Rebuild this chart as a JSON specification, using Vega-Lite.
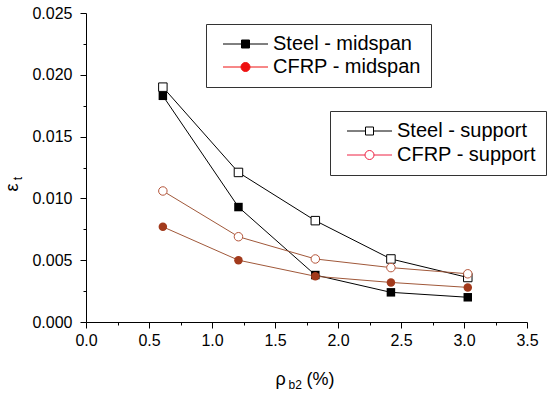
{
  "$schema": "https://vega.github.io/schema/vega-lite/v6.json",
  "width": 441,
  "height": 309,
  "autosize": {"type": "none"},
  "padding": {"left": 86, "top": 13, "right": 23, "bottom": 72},
  "background": "white",
  "config": {
    "view": {"stroke": null},
    "font": "Liberation Sans",
    "axis": {"grid": false, "labelFont": "Liberation Sans", "labelFontSize": 16, "labelColor": "black", "domainColor": "black", "tickColor": "black", "titleColor": "black", "titleFont": "Liberation Sans", "titleFontWeight": "normal"},
    "legend": {"labelFont": "Liberation Sans", "labelFontSize": 20, "labelColor": "black", "labelLimit": 400}
  },
  "data": {"values": [
    {"rho": 0.61, "eps": 0.0183, "series": "Steel - midspan"},
    {"rho": 1.21, "eps": 0.0093, "series": "Steel - midspan"},
    {"rho": 1.82, "eps": 0.0038, "series": "Steel - midspan"},
    {"rho": 2.42, "eps": 0.0024, "series": "Steel - midspan"},
    {"rho": 3.03, "eps": 0.0020, "series": "Steel - midspan"},
    {"rho": 0.61, "eps": 0.0077, "series": "CFRP - midspan"},
    {"rho": 1.21, "eps": 0.0050, "series": "CFRP - midspan"},
    {"rho": 1.82, "eps": 0.0037, "series": "CFRP - midspan"},
    {"rho": 2.42, "eps": 0.0032, "series": "CFRP - midspan"},
    {"rho": 3.03, "eps": 0.0028, "series": "CFRP - midspan"},
    {"rho": 0.61, "eps": 0.0190, "series": "Steel - support"},
    {"rho": 1.21, "eps": 0.0121, "series": "Steel - support"},
    {"rho": 1.82, "eps": 0.0082, "series": "Steel - support"},
    {"rho": 2.42, "eps": 0.0051, "series": "Steel - support"},
    {"rho": 3.03, "eps": 0.0036, "series": "Steel - support"},
    {"rho": 0.61, "eps": 0.0106, "series": "CFRP - support"},
    {"rho": 1.21, "eps": 0.0069, "series": "CFRP - support"},
    {"rho": 1.82, "eps": 0.0051, "series": "CFRP - support"},
    {"rho": 2.42, "eps": 0.0044, "series": "CFRP - support"},
    {"rho": 3.03, "eps": 0.0039, "series": "CFRP - support"}
  ]},
  "resolve": {
    "scale": {"color": "independent", "fill": "independent", "stroke": "independent", "shape": "independent"},
    "axis": {"x": "independent", "y": "independent"}
  },
  "layer": [
    {
      "mark": {"type": "line", "strokeWidth": 1},
      "encoding": {
        "x": {"field": "rho", "type": "quantitative", "scale": {"domain": [0, 3.5], "nice": false, "zero": false},
          "axis": {"orient": "bottom", "values": [0, 0.5, 1, 1.5, 2, 2.5, 3, 3.5], "format": ".1f", "tickSize": 6, "labelPadding": 4, "labelFlush": false, "labelOverlap": false,
            "title": "ρ", "titleFontSize": 18, "titleX": 189, "titleY": 62, "titleAlign": "left", "titleBaseline": "alphabetic"}},
        "y": {"field": "eps", "type": "quantitative", "scale": {"domain": [0, 0.025], "nice": false, "zero": false},
          "axis": {"orient": "left", "values": [0, 0.005, 0.01, 0.015, 0.02, 0.025], "format": ".3f", "tickSize": 6, "labelPadding": 8, "labelFlush": false, "labelOverlap": false,
            "title": "ε", "titleFontSize": 18, "titleX": -69, "titleY": 174, "titleAngle": -90, "titleAlign": "center", "titleBaseline": "alphabetic"}},
        "color": {"field": "series", "type": "nominal", "legend": null,
          "scale": {"domain": ["Steel - midspan", "CFRP - midspan", "Steel - support", "CFRP - support"], "range": ["black", "#a0583a", "black", "#a0583a"]}}
      }
    },
    {
      "transform": [{"filter": "indexof(datum.series, 'midspan') >= 0"}],
      "mark": {"type": "point", "filled": true, "opacity": 1, "size": 72},
      "encoding": {
        "x": {"field": "rho", "type": "quantitative",
          "axis": {"orient": "bottom", "values": [0.25, 0.75, 1.25, 1.75, 2.25, 2.75, 3.25], "tickSize": 3, "labels": false, "domain": false,
            "title": "b2", "titleFontSize": 12, "titleX": 202, "titleY": 66, "titleAlign": "left", "titleBaseline": "alphabetic"}},
        "y": {"field": "eps", "type": "quantitative",
          "axis": {"orient": "left", "values": [0.0025, 0.0075, 0.0125, 0.0175, 0.0225], "tickSize": 3, "labels": false, "domain": false,
            "title": "t", "titleFontSize": 12, "titleX": -65, "titleY": 165, "titleAngle": -90, "titleAlign": "center", "titleBaseline": "alphabetic"}},
        "fill": {"field": "series", "type": "nominal", "legend": null,
          "scale": {"domain": ["Steel - midspan", "CFRP - midspan"], "range": ["black", "#a23a1c"]}},
        "shape": {"field": "series", "type": "nominal", "legend": null,
          "scale": {"domain": ["Steel - midspan", "CFRP - midspan"], "range": ["square", "circle"]}}
      }
    },
    {
      "transform": [{"filter": "indexof(datum.series, 'support') >= 0"}],
      "mark": {"type": "point", "filled": false, "fill": "white", "fillOpacity": 1, "opacity": 1, "size": 72, "strokeWidth": 1},
      "encoding": {
        "x": {"field": "rho", "type": "quantitative",
          "axis": {"orient": "bottom", "ticks": false, "labels": false, "domain": false,
            "title": "(%)", "titleFontSize": 18, "titleX": 220, "titleY": 62, "titleAlign": "left", "titleBaseline": "alphabetic"}},
        "y": {"field": "eps", "type": "quantitative", "axis": null},
        "stroke": {"field": "series", "type": "nominal", "legend": null,
          "scale": {"domain": ["Steel - support", "CFRP - support"], "range": ["black", "#b5553a"]}},
        "shape": {"field": "series", "type": "nominal", "legend": null,
          "scale": {"domain": ["Steel - support", "CFRP - support"], "range": ["square", "circle"]}}
      }
    },
    {
      "transform": [{"filter": "indexof(datum.series, 'midspan') >= 0"}],
      "mark": {"type": "point", "filled": true, "opacity": 1, "size": 0, "strokeWidth": 1},
      "encoding": {
        "x": {"field": "rho", "type": "quantitative", "axis": null},
        "y": {"field": "eps", "type": "quantitative", "axis": null},
        "shape": {"field": "series", "type": "nominal",
          "scale": {"domain": ["Steel - midspan", "CFRP - midspan"], "range": ["M-4.5,0H4.5M-0.8,-0.8H0.8V0.8H-0.8Z", "M-4.5,0H4.5M0.9,0A0.9,0.9 0 1 1 -0.9,0A0.9,0.9 0 1 1 0.9,0Z"]},
          "legend": {"title": null, "orient": "none", "legendX": 120, "legendY": 11, "padding": 10, "symbolOffset": 19.5, "labelOffset": 17.5, "rowPadding": 3,
            "strokeColor": "#333", "fillColor": "white", "cornerRadius": 0, "symbolSize": 100, "symbolStrokeWidth": 1, "symbolOpacity": 1}},
        "fill": {"field": "series", "type": "nominal",
          "scale": {"domain": ["Steel - midspan", "CFRP - midspan"], "range": ["black", "#ee1111"]},
          "legend": {"title": null, "orient": "none", "legendX": 120, "legendY": 11, "padding": 10, "symbolOffset": 19.5, "labelOffset": 17.5, "rowPadding": 3,
            "strokeColor": "#333", "fillColor": "white", "cornerRadius": 0, "symbolSize": 100, "symbolStrokeWidth": 1, "symbolOpacity": 1}},
        "stroke": {"field": "series", "type": "nominal",
          "scale": {"domain": ["Steel - midspan", "CFRP - midspan"], "range": ["black", "#ee1111"]},
          "legend": {"title": null, "orient": "none", "legendX": 120, "legendY": 11, "padding": 10, "symbolOffset": 19.5, "labelOffset": 17.5, "rowPadding": 3,
            "strokeColor": "#333", "fillColor": "white", "cornerRadius": 0, "symbolSize": 100, "symbolStrokeWidth": 1, "symbolOpacity": 1}}
      }
    },
    {
      "transform": [{"filter": "indexof(datum.series, 'support') >= 0"}],
      "mark": {"type": "point", "filled": false, "opacity": 1, "size": 0, "strokeWidth": 1},
      "encoding": {
        "x": {"field": "rho", "type": "quantitative", "axis": null},
        "y": {"field": "eps", "type": "quantitative", "axis": null},
        "shape": {"field": "series", "type": "nominal",
          "scale": {"domain": ["Steel - support", "CFRP - support"], "range": ["M-4.5,0H-0.8M0.8,0H4.5M-0.8,-0.8H0.8V0.8H-0.8Z", "M-4.5,0H-0.9M0.9,0H4.5M0.9,0A0.9,0.9 0 1 1 -0.9,0A0.9,0.9 0 1 1 0.9,0Z"]},
          "legend": {"title": null, "orient": "none", "legendX": 244, "legendY": 98, "padding": 10, "symbolOffset": 19.5, "labelOffset": 17.5, "rowPadding": 4,
            "strokeColor": "#333", "fillColor": "white", "cornerRadius": 0, "symbolSize": 100, "symbolStrokeWidth": 1, "symbolOpacity": 1}},
        "stroke": {"field": "series", "type": "nominal",
          "scale": {"domain": ["Steel - support", "CFRP - support"], "range": ["black", "#ee2244"]},
          "legend": {"title": null, "orient": "none", "legendX": 244, "legendY": 98, "padding": 10, "symbolOffset": 19.5, "labelOffset": 17.5, "rowPadding": 4,
            "strokeColor": "#333", "fillColor": "white", "cornerRadius": 0, "symbolSize": 100, "symbolStrokeWidth": 1, "symbolOpacity": 1}}
      }
    }
  ]
}
